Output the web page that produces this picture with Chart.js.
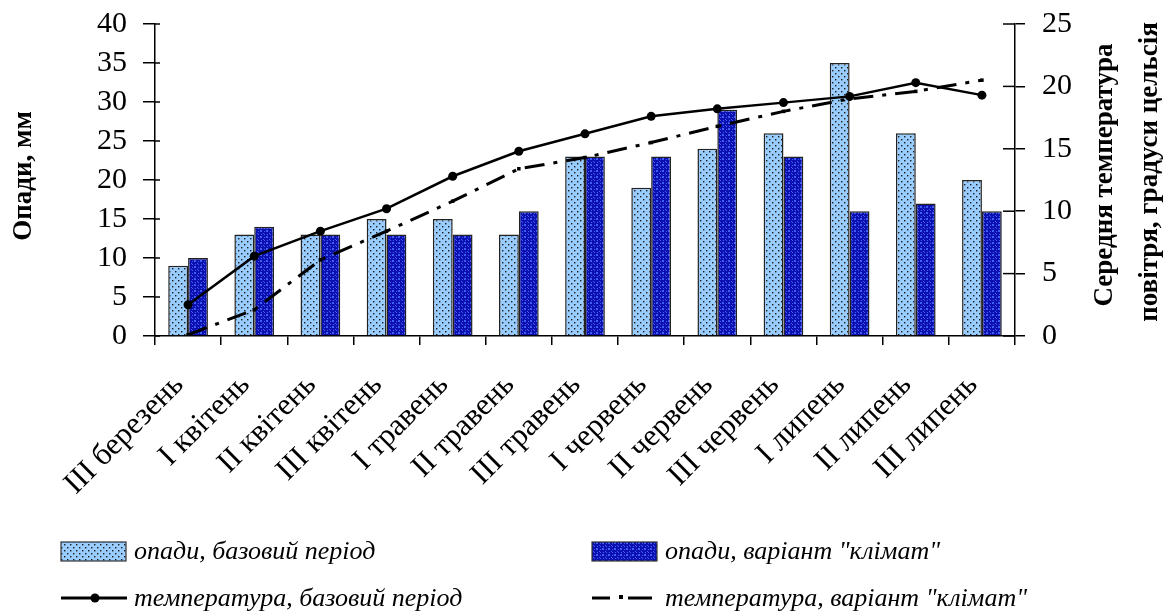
<!DOCTYPE html>
<html>
<head>
<meta charset="utf-8">
<script src="https://cdn.jsdelivr.net/npm/chart.js@4.4.1/dist/chart.umd.min.js"></script>
<style>
  html, body { margin: 0; padding: 0; background: #fff; }
  #wrap { width: 1176px; height: 616px; }
</style>
</head>
<body>
<div id="wrap"><canvas id="rainChart"></canvas></div>
<script>
// data
const periods = ['III березень', 'I квітень', 'II квітень', 'III квітень', 'I травень', 'II травень',
  'III травень', 'I червень', 'II червень', 'III червень', 'I липень', 'II липень', 'III липень'];
const rainBase = [9, 13, 13, 15, 15, 13, 23, 19, 24, 26, 35, 26, 20];
const rainClimate = [10, 14, 13, 13, 13, 16, 23, 23, 29, 23, 16, 17, 16];
const tempBase = [2.5, 6.4, 8.4, 10.2, 12.8, 14.8, 16.2, 17.6, 18.2, 18.7, 19.2, 20.3, 19.3];
const tempClimate = [0.1, 2.1, 6.1, 8.4, 10.8, 13.4, 14.3, 15.5, 16.8, 18.0, 19.0, 19.6, 20.5];
const rainTicks = [0, 5, 10, 15, 20, 25, 30, 35, 40];
const tempTicks = [0, 5, 10, 15, 20, 25];

const serif = '"Liberation Serif", "Times New Roman", serif';

// hatch fills like the old Excel patterns
function dotPattern() {
  const c = document.createElement('canvas');
  c.width = 6; c.height = 6;
  const g = c.getContext('2d');
  g.fillStyle = '#99CCFF';
  g.fillRect(0, 0, 6, 6);
  g.fillStyle = '#1a1a1a';
  g.fillRect(1, 1, 1.4, 1.4);
  g.fillRect(4, 4, 1.4, 1.4);
  return g.createPattern(c, 'repeat');
}
function crossPattern() {
  const c = document.createElement('canvas');
  c.width = 6; c.height = 6;
  const g = c.getContext('2d');
  g.fillStyle = '#0c10b0';
  g.fillRect(0, 0, 6, 6);
  g.fillStyle = '#3f5ef2';
  g.fillRect(0, 0, 1, 1);
  g.fillRect(2, 2, 2, 2);
  g.fillRect(5, 5, 1, 1);
  g.fillRect(3, 0, 1, 1);
  g.fillRect(0, 3, 1, 1);
  return g.createPattern(c, 'repeat');
}
const lightFill = dotPattern();
const darkFill = crossPattern();

const extras = {
  id: 'extras',
  afterDraw(chart) {
    const ctx = chart.ctx;
    const yl = chart.scales.yRain, yr = chart.scales.yTemp;
    ctx.save();
    // inner halves of the tick marks
    ctx.strokeStyle = '#000';
    ctx.lineWidth = 1.5;
    rainTicks.forEach(v => {
      const y = yl.getPixelForValue(v);
      ctx.beginPath(); ctx.moveTo(yl.right, y); ctx.lineTo(yl.right + 5, y); ctx.stroke();
    });
    tempTicks.forEach(v => {
      const y = yr.getPixelForValue(v);
      ctx.beginPath(); ctx.moveTo(yr.left - 12, y); ctx.lineTo(yr.left, y); ctx.stroke();
    });

    // axis titles
    ctx.fillStyle = '#000';
    ctx.font = 'bold 27px ' + serif;
    ctx.textAlign = 'center';
    ctx.textBaseline = 'middle';
    const titles = [[24, 176, 'Опади, мм'], [1105, 175, 'Середня температура'], [1150, 172, 'повітря, градуси цельсія']];
    titles.forEach(t => {
      ctx.save();
      ctx.translate(t[0], t[1]);
      ctx.rotate(-Math.PI / 2);
      ctx.fillText(t[2], 0, 0);
      ctx.restore();
    });

    // legend, two by two
    ctx.font = 'italic 26px ' + serif;
    ctx.textAlign = 'left';
    const items = [
      {x: 61, y: 551, kind: 'bar', fill: lightFill, text: chart.data.datasets[2].label},
      {x: 592, y: 551, kind: 'bar', fill: darkFill, text: chart.data.datasets[3].label},
      {x: 61, y: 598, kind: 'solid', text: chart.data.datasets[0].label},
      {x: 592, y: 598, kind: 'dash', text: chart.data.datasets[1].label}
    ];
    items.forEach(it => {
      if (it.kind === 'bar') {
        ctx.fillStyle = it.fill;
        ctx.fillRect(it.x, it.y - 9, 65, 19);
        ctx.strokeStyle = '#333';
        ctx.lineWidth = 1.2;
        ctx.strokeRect(it.x, it.y - 9, 65, 19);
      } else {
        ctx.strokeStyle = '#000';
        ctx.lineWidth = 3;
        ctx.beginPath();
        if (it.kind === 'solid') {
          ctx.moveTo(it.x, it.y); ctx.lineTo(it.x + 66, it.y);
        } else {
          ctx.moveTo(it.x, it.y); ctx.lineTo(it.x + 18, it.y);
          ctx.moveTo(it.x + 36, it.y); ctx.lineTo(it.x + 60, it.y);
        }
        ctx.stroke();
        ctx.fillStyle = '#000';
        ctx.beginPath();
        if (it.kind === 'solid') ctx.arc(it.x + 34, it.y, 4.5, 0, Math.PI * 2);
        else ctx.rect(it.x + 27, it.y - 3, 4, 4);
        ctx.fill();
      }
      ctx.fillStyle = '#000';
      ctx.fillText(it.text, it.x + 73, it.y + 1);
    });
    ctx.restore();
  }
};

const ctx = document.getElementById('rainChart').getContext('2d');
const rainChart = new Chart(ctx, {
  data: {
    labels: periods,
    datasets: [{
      type: 'line',
      label: 'температура, базовий період',
      data: tempBase,
      yAxisID: 'yTemp',
      borderColor: '#000',
      borderWidth: 2.5,
      pointRadius: 4.5,
      pointBackgroundColor: '#000',
      pointBorderWidth: 0,
      tension: 0,
      order: 0
    }, {
      type: 'line',
      label: 'температура, варіант "клімат"',
      data: tempClimate,
      yAxisID: 'yTemp',
      borderColor: '#000',
      borderWidth: 3,
      borderDash: [20, 9, 4, 9],
      pointRadius: 2.5,
      pointStyle: 'rect',
      pointBackgroundColor: '#000',
      pointBorderWidth: 0,
      tension: 0,
      order: 0
    }, {
      type: 'bar',
      label: 'опади, базовий період',
      data: rainBase,
      yAxisID: 'yRain',
      backgroundColor: lightFill,
      borderColor: '#222',
      borderWidth: 1.5,
      categoryPercentage: 0.6,
      barPercentage: 1.0,
      order: 1
    }, {
      type: 'bar',
      label: 'опади, варіант "клімат"',
      data: rainClimate,
      yAxisID: 'yRain',
      backgroundColor: darkFill,
      borderColor: '#222',
      borderWidth: 1.5,
      categoryPercentage: 0.6,
      barPercentage: 1.0,
      order: 1
    }]
  },
  options: {
    responsive: true,
    maintainAspectRatio: false,
    animation: false,
    layout: { padding: { top: 24, left: 0, right: 0, bottom: 0 } },
    plugins: {
      legend: { display: false },
      tooltip: { enabled: false }
    },
    scales: {
      x: {
        offset: true,
        grid: { drawOnChartArea: false, color: '#000', lineWidth: 1.5, tickLength: 9, offset: true },
        border: { color: '#000', width: 1.5 },
        ticks: {
          color: '#000',
          font: { family: serif, size: 31 },
          minRotation: 45,
          maxRotation: 45,
          padding: 22,
          labelOffset: -9,
          autoSkip: false
        },
        afterFit(scale) { scale.height = 280; scale.paddingLeft = 0; scale.paddingRight = 0; }
      },
      yRain: {
        position: 'left',
        min: 0,
        max: 40,
        afterBuildTicks(scale) { scale.ticks = rainTicks.map(v => ({value: v})); },
        grid: { drawOnChartArea: false, color: '#000', lineWidth: 1.5, tickLength: 12 },
        border: { color: '#000', width: 1.5 },
        ticks: { color: '#000', font: { family: serif, size: 30 }, padding: 16, autoSkip: false },
        afterFit(scale) { scale.width = 155; scale.paddingTop = 0; scale.paddingBottom = 0; }
      },
      yTemp: {
        position: 'right',
        min: 0,
        max: 25,
        afterBuildTicks(scale) { scale.ticks = tempTicks.map(v => ({value: v})); },
        grid: { drawOnChartArea: false, color: '#000', lineWidth: 1.5, tickLength: 10 },
        border: { color: '#000', width: 1.5 },
        ticks: { color: '#000', font: { family: serif, size: 30 }, padding: 17, autoSkip: false },
        afterFit(scale) { scale.width = 161; scale.paddingTop = 0; scale.paddingBottom = 0; }
      }
    }
  },
  plugins: [extras]
});
</script>
</body>
</html>
